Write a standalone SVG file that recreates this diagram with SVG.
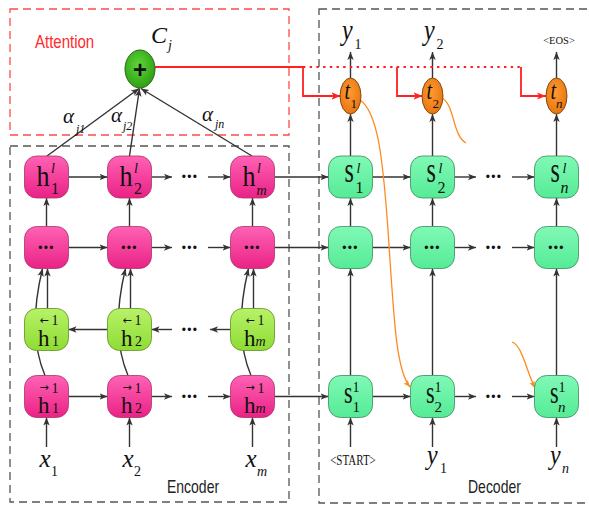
<svg xmlns="http://www.w3.org/2000/svg" width="589" height="506" viewBox="0 0 589 506">
  <style>
    .serif { font-family: "Liberation Serif", "Times New Roman", serif; fill: #111; }
    .it { font-style: italic; }
    .sans { font-family: "Liberation Sans", Arial, sans-serif; }
    .dots { font-family: "Liberation Sans", Arial, sans-serif; font-size: 12px; letter-spacing: 1.3px; text-anchor: middle; fill: #111; }
    .arr { font-family: "DejaVu Sans", sans-serif; font-size: 11px; text-anchor: middle; fill: #111; }
    .link { fill: none; stroke: #333; stroke-width: 1.4; marker-end: url(#ah); }
    .red { fill: none; stroke: #ff2020; stroke-width: 1.8; }
    .redarrow { marker-end: url(#ahRed); }
    .orange { fill: none; stroke: #ff8a1c; stroke-width: 1.3; }
    .pink { fill: url(#gPink); stroke: #a83366; stroke-width: 0.8; }
    .mint { fill: url(#gMint); stroke: #3b8a5c; stroke-width: 0.8; }
    .lime { fill: url(#gLime); stroke: #5f8f25; stroke-width: 0.8; }
    .box { fill: none; stroke: #555; stroke-width: 1.3; stroke-dasharray: 8 5; }
    .abox { fill: none; stroke: #ff4a4a; stroke-width: 1.3; stroke-dasharray: 8 5; }
  </style>
  <defs>
    <linearGradient id="gPink" x1="0" y1="0" x2="0" y2="1">
      <stop offset="0" stop-color="#ff62b4"/>
      <stop offset="1" stop-color="#ea2286"/>
    </linearGradient>
    <linearGradient id="gMint" x1="0" y1="0" x2="0" y2="1">
      <stop offset="0" stop-color="#80f9b6"/>
      <stop offset="1" stop-color="#55eb96"/>
    </linearGradient>
    <linearGradient id="gLime" x1="0" y1="0" x2="0" y2="1">
      <stop offset="0" stop-color="#b8f268"/>
      <stop offset="1" stop-color="#8edc34"/>
    </linearGradient>
    <radialGradient id="gGreen" cx="0.45" cy="0.4" r="0.6">
      <stop offset="0" stop-color="#5fd83a"/>
      <stop offset="1" stop-color="#2f9f16"/>
    </radialGradient>
    <radialGradient id="gOrange" cx="0.45" cy="0.4" r="0.6">
      <stop offset="0" stop-color="#ff9a33"/>
      <stop offset="1" stop-color="#e8760f"/>
    </radialGradient>
    <marker id="ah" viewBox="0 0 10 10" refX="10" refY="5" markerWidth="8" markerHeight="8" markerUnits="userSpaceOnUse" orient="auto">
      <path d="M0,1 L10,5 L0,9 L2.5,5 Z" fill="#333"/>
    </marker>
    <marker id="ahRed" viewBox="0 0 10 10" refX="10" refY="5" markerWidth="9" markerHeight="9" markerUnits="userSpaceOnUse" orient="auto">
      <path d="M0,1 L10,5 L0,9 L2.5,5 Z" fill="#ff2020"/>
    </marker>
    <marker id="ahOrange" viewBox="0 0 10 10" refX="10" refY="5" markerWidth="7" markerHeight="7" markerUnits="userSpaceOnUse" orient="auto">
      <path d="M0,1 L10,5 L0,9 L2.5,5 Z" fill="#ff8a1c"/>
    </marker>
  </defs>

  <rect width="589" height="506" fill="#ffffff"/>

  <!-- region frames -->
  <g id="frames">
    <rect class="abox" x="10" y="9" width="279" height="126"/>
    <rect class="box" x="10" y="146" width="279" height="356"/>
    <rect class="box" x="319" y="9" width="276" height="494"/>
    <text class="sans" font-size="15" fill="#ff2a2a" transform="translate(35,48) scale(1,1.2)">Attention</text>
    <text class="sans" font-size="14" fill="#222" transform="translate(167,493) scale(1,1.25)">Encoder</text>
    <text class="sans" font-size="14" fill="#222" transform="translate(468,493) scale(1,1.25)">Decoder</text>
  </g>

  <!-- connectors -->
  <g id="connectors">
    <!-- encoder horizontal: top layer -->
    <path class="link" d="M68.5,177 H107.5"/>
    <path class="link" d="M151.5,177 H172"/>
    <path class="link" d="M208,177 H230.5"/>
    <path class="link" d="M274.5,177 H328.5"/>
    <!-- encoder horizontal: middle layer -->
    <path class="link" d="M68.5,247.5 H107.5"/>
    <path class="link" d="M151.5,247.5 H172"/>
    <path class="link" d="M208,247.5 H230.5"/>
    <path class="link" d="M274.5,247.5 H328.5"/>
    <!-- encoder backward layer -->
    <path class="link" d="M107.5,329.5 H68.5"/>
    <path class="link" d="M172,329.5 H151.5"/>
    <path class="link" d="M230.5,329.5 H210"/>
    <!-- encoder forward layer -->
    <path class="link" d="M68.5,396.5 H107.5"/>
    <path class="link" d="M151.5,396.5 H172"/>
    <path class="link" d="M208,396.5 H230.5"/>
    <path class="link" d="M274.5,396.5 H328.5"/>

    <!-- decoder horizontal -->
    <path class="link" d="M372.5,177 H410.5"/>
    <path class="link" d="M454.5,177 H476"/>
    <path class="link" d="M512,177 H534.5"/>
    <path class="link" d="M372.5,247.5 H410.5"/>
    <path class="link" d="M454.5,247.5 H476"/>
    <path class="link" d="M512,247.5 H534.5"/>
    <path class="link" d="M372.5,396.5 H410.5"/>
    <path class="link" d="M454.5,396.5 H476"/>
    <path class="link" d="M512,396.5 H534.5"/>

    <!-- encoder vertical, column 1 -->
    <path class="link" d="M46.5,226.5 V198"/>
    <path class="link" d="M47.5,308.5 V268.5"/>
    <path class="link" d="M45,375.5 C35,352 30,320 42.5,268.5"/>
    <path class="link" d="M46.5,447 V417.5"/>
    <!-- encoder vertical, column 2 -->
    <path class="link" d="M129.5,226.5 V198"/>
    <path class="link" d="M130.5,308.5 V268.5"/>
    <path class="link" d="M128,375.5 C118,352 113,320 125.5,268.5"/>
    <path class="link" d="M129.5,447 V417.5"/>
    <!-- encoder vertical, column m -->
    <path class="link" d="M252.5,226.5 V198"/>
    <path class="link" d="M253.5,308.5 V268.5"/>
    <path class="link" d="M251,375.5 C241,352 236,320 248.5,268.5"/>
    <path class="link" d="M252.5,447 V417.5"/>

    <!-- attention weights into the context sum -->
    <path class="link" d="M47,156 L139,88.5"/>
    <path class="link" d="M129.5,156 L139.5,88.5"/>
    <path class="link" d="M252,156 L141,88.5"/>

    <!-- decoder vertical -->
    <path class="link" d="M350.5,375.5 V268.5"/>
    <path class="link" d="M350.5,226.5 V198"/>
    <path class="link" d="M350.5,156 V114"/>
    <path class="link" d="M350.5,78 V52"/>
    <path class="link" d="M350.5,447 V417.5"/>
    <path class="link" d="M432.5,375.5 V268.5"/>
    <path class="link" d="M432.5,226.5 V198"/>
    <path class="link" d="M432.5,156 V114"/>
    <path class="link" d="M432.5,78 V52"/>
    <path class="link" d="M432.5,447 V417.5"/>
    <path class="link" d="M556.5,375.5 V268.5"/>
    <path class="link" d="M556.5,226.5 V198"/>
    <path class="link" d="M556.5,156 V114"/>
    <path class="link" d="M556.5,78 V52"/>
    <path class="link" d="M556.5,447 V417.5"/>

    <!-- context vector routed to each step -->
    <path class="red redarrow" d="M155,67 H303 V96 H340.5"/>
    <path class="red" d="M303,67 H521" stroke-dasharray="2.4 4.3"/>
    <path class="red redarrow" d="M397,67 V96 H422.5"/>
    <path class="red redarrow" d="M521,67 V96 H546"/>

    <!-- output feedback -->
    <path class="orange" marker-end="url(#ahOrange)" d="M360,100 C378,112 383,160 388,230 C394,320 396,370 410,387"/>
    <path class="orange" d="M442,98 C455,105 452,135 466,143"/>
    <path class="orange" marker-end="url(#ahOrange)" d="M512,342 C522,345 526,370 535,388"/>
  </g>

  <!-- attention sum -->
  <g id="context-sum">
    <ellipse cx="140" cy="69" rx="15" ry="19" fill="url(#gGreen)" stroke="#2a6a12" stroke-width="1"/>
    <text class="sans" font-size="24" font-weight="bold" text-anchor="middle" x="140" y="77.5" fill="#111">+</text>
    <text class="serif it" font-size="24" x="151" y="43">C</text>
    <text class="serif it" font-size="14" x="168" y="50">j</text>
  </g>

  <!-- attention weight labels -->
  <g id="weights">
    <text class="serif it" font-size="21" x="63" y="123">α</text>
    <text class="serif it" font-size="12" x="76" y="133">j1</text>
    <text class="serif it" font-size="21" x="111" y="122">α</text>
    <text class="serif it" font-size="12" x="123" y="130">j2</text>
    <text class="serif it" font-size="21" x="202" y="121">α</text>
    <text class="serif it" font-size="12" x="215" y="128">jn</text>
  </g>

  <!-- encoder: top layer -->
  <g id="enc-top-1" transform="translate(46.5,177)">
    <rect class="pink" x="-22" y="-21" width="44" height="42" rx="12"/>
    <text class="serif" font-size="26" transform="translate(-10,9) scale(1,1.15)">h</text>
    <text class="serif it" font-size="14" x="4.5" y="-4">l</text>
    <text class="serif" font-size="16" x="4.5" y="17">1</text>
  </g>
  <g id="enc-top-2" transform="translate(129.5,177)">
    <rect class="pink" x="-22" y="-21" width="44" height="42" rx="12"/>
    <text class="serif" font-size="26" transform="translate(-10,9) scale(1,1.15)">h</text>
    <text class="serif it" font-size="14" x="4.5" y="-4">l</text>
    <text class="serif" font-size="16" x="4.5" y="17">2</text>
  </g>
  <g id="enc-top-dots" transform="translate(190,177)">
    <text class="dots" y="4.3">•••</text>
  </g>
  <g id="enc-top-m" transform="translate(252.5,177)">
    <rect class="pink" x="-22" y="-21" width="44" height="42" rx="12"/>
    <text class="serif" font-size="26" transform="translate(-10,9) scale(1,1.15)">h</text>
    <text class="serif it" font-size="14" x="4.5" y="-4">l</text>
    <text class="serif it" font-size="14" x="4" y="18">m</text>
  </g>

  <!-- encoder: middle layers -->
  <g id="enc-mid-1" transform="translate(46.5,247.5)">
    <rect class="pink" x="-22" y="-21" width="44" height="42" rx="12"/>
    <text class="dots" y="4.3">•••</text>
  </g>
  <g id="enc-mid-2" transform="translate(129.5,247.5)">
    <rect class="pink" x="-22" y="-21" width="44" height="42" rx="12"/>
    <text class="dots" y="4.3">•••</text>
  </g>
  <g id="enc-mid-dots" transform="translate(190,247.5)">
    <text class="dots" y="4.3">•••</text>
  </g>
  <g id="enc-mid-m" transform="translate(252.5,247.5)">
    <rect class="pink" x="-22" y="-21" width="44" height="42" rx="12"/>
    <text class="dots" y="4.3">•••</text>
  </g>

  <!-- encoder: backward first layer -->
  <g id="enc-bwd-1" transform="translate(46.5,329.5)">
    <rect class="lime" x="-22" y="-21" width="44" height="42" rx="12"/>
    <text class="arr" x="-2.5" y="-6">←</text>
    <text class="serif" font-size="23" x="-8.5" y="16.5">h</text>
    <text class="serif" font-size="14" x="5" y="-5">1</text>
    <text class="serif" font-size="14" x="5.5" y="16.5">1</text>
  </g>
  <g id="enc-bwd-2" transform="translate(129.5,329.5)">
    <rect class="lime" x="-22" y="-21" width="44" height="42" rx="12"/>
    <text class="arr" x="-2.5" y="-6">←</text>
    <text class="serif" font-size="23" x="-8.5" y="16.5">h</text>
    <text class="serif" font-size="14" x="5" y="-5">1</text>
    <text class="serif" font-size="14" x="5.5" y="16.5">2</text>
  </g>
  <g id="enc-bwd-dots" transform="translate(190,329.5)">
    <text class="dots" y="4.3">•••</text>
  </g>
  <g id="enc-bwd-m" transform="translate(252.5,329.5)">
    <rect class="lime" x="-22" y="-21" width="44" height="42" rx="12"/>
    <text class="arr" x="-2.5" y="-6">←</text>
    <text class="serif" font-size="23" x="-8.5" y="16.5">h</text>
    <text class="serif" font-size="14" x="5" y="-5">1</text>
    <text class="serif it" font-size="14" x="3" y="16.5">m</text>
  </g>

  <!-- encoder: forward first layer -->
  <g id="enc-fwd-1" transform="translate(46.5,396.5)">
    <rect class="pink" x="-22" y="-21" width="44" height="42" rx="12"/>
    <text class="arr" x="-2.5" y="-6">→</text>
    <text class="serif" font-size="23" x="-8.5" y="16.5">h</text>
    <text class="serif" font-size="14" x="5" y="-4">1</text>
    <text class="serif" font-size="14" x="5.5" y="16.5">1</text>
  </g>
  <g id="enc-fwd-2" transform="translate(129.5,396.5)">
    <rect class="pink" x="-22" y="-21" width="44" height="42" rx="12"/>
    <text class="arr" x="-2.5" y="-6">→</text>
    <text class="serif" font-size="23" x="-8.5" y="16.5">h</text>
    <text class="serif" font-size="14" x="5" y="-4">1</text>
    <text class="serif" font-size="14" x="5.5" y="16.5">2</text>
  </g>
  <g id="enc-fwd-dots" transform="translate(190,396.5)">
    <text class="dots" y="4.3">•••</text>
  </g>
  <g id="enc-fwd-m" transform="translate(252.5,396.5)">
    <rect class="pink" x="-22" y="-21" width="44" height="42" rx="12"/>
    <text class="arr" x="-2.5" y="-6">→</text>
    <text class="serif" font-size="23" x="-8.5" y="16.5">h</text>
    <text class="serif" font-size="14" x="5" y="-4">1</text>
    <text class="serif it" font-size="14" x="3" y="16.5">m</text>
  </g>

  <!-- encoder inputs -->
  <g id="enc-inputs">
    <text class="serif it" font-size="25" x="39.5" y="467">x</text>
    <text class="serif" font-size="14" x="51" y="476">1</text>
    <text class="serif it" font-size="25" x="122.5" y="467">x</text>
    <text class="serif" font-size="14" x="134" y="476">2</text>
    <text class="serif it" font-size="25" x="245.5" y="467">x</text>
    <text class="serif it" font-size="14" x="257" y="476">m</text>
  </g>

  <!-- decoder: top layer -->
  <g id="dec-top-1" transform="translate(350.5,177)">
    <rect class="mint" x="-22" y="-21" width="44" height="42" rx="12"/>
    <text class="serif" font-size="24" transform="translate(-6,5) scale(1,1.45)">s</text>
    <text class="serif it" font-size="14" x="6" y="-4">l</text>
    <text class="serif" font-size="16" x="5" y="16">1</text>
  </g>
  <g id="dec-top-2" transform="translate(432.5,177)">
    <rect class="mint" x="-22" y="-21" width="44" height="42" rx="12"/>
    <text class="serif" font-size="24" transform="translate(-6,5) scale(1,1.45)">s</text>
    <text class="serif it" font-size="14" x="6" y="-4">l</text>
    <text class="serif" font-size="16" x="5" y="16">2</text>
  </g>
  <g id="dec-top-dots" transform="translate(494,177)">
    <text class="dots" y="4.3">•••</text>
  </g>
  <g id="dec-top-n" transform="translate(556.5,177)">
    <rect class="mint" x="-22" y="-21" width="44" height="42" rx="12"/>
    <text class="serif" font-size="24" transform="translate(-6,5) scale(1,1.45)">s</text>
    <text class="serif it" font-size="14" x="6" y="-4">l</text>
    <text class="serif it" font-size="16" x="4" y="16">n</text>
  </g>

  <!-- decoder: middle layers -->
  <g id="dec-mid-1" transform="translate(350.5,247.5)">
    <rect class="mint" x="-22" y="-21" width="44" height="42" rx="12"/>
    <text class="dots" y="4.3">•••</text>
  </g>
  <g id="dec-mid-2" transform="translate(432.5,247.5)">
    <rect class="mint" x="-22" y="-21" width="44" height="42" rx="12"/>
    <text class="dots" y="4.3">•••</text>
  </g>
  <g id="dec-mid-dots" transform="translate(494,247.5)">
    <text class="dots" y="4.3">•••</text>
  </g>
  <g id="dec-mid-n" transform="translate(556.5,247.5)">
    <rect class="mint" x="-22" y="-21" width="44" height="42" rx="12"/>
    <text class="dots" y="4.3">•••</text>
  </g>

  <!-- decoder: first layer -->
  <g id="dec-first-1" transform="translate(350.5,396.5)">
    <rect class="mint" x="-22" y="-21" width="44" height="42" rx="12"/>
    <text class="serif" font-size="22" transform="translate(-6.5,6.5) scale(1,1.45)">s</text>
    <text class="serif" font-size="14" x="2" y="-4.5">1</text>
    <text class="serif" font-size="15" x="2" y="15.5">1</text>
  </g>
  <g id="dec-first-2" transform="translate(432.5,396.5)">
    <rect class="mint" x="-22" y="-21" width="44" height="42" rx="12"/>
    <text class="serif" font-size="22" transform="translate(-6.5,6.5) scale(1,1.45)">s</text>
    <text class="serif" font-size="14" x="2" y="-4.5">1</text>
    <text class="serif" font-size="15" x="2" y="15.5">2</text>
  </g>
  <g id="dec-first-dots" transform="translate(494,396.5)">
    <text class="dots" y="4.3">•••</text>
  </g>
  <g id="dec-first-n" transform="translate(556.5,396.5)">
    <rect class="mint" x="-22" y="-21" width="44" height="42" rx="12"/>
    <text class="serif" font-size="22" transform="translate(-6.5,6.5) scale(1,1.45)">s</text>
    <text class="serif" font-size="14" x="2" y="-4.5">1</text>
    <text class="serif it" font-size="15" x="1.5" y="15.5">n</text>
  </g>

  <!-- decoder outputs t -->
  <g id="dec-t-1" transform="translate(350.5,96)">
    <ellipse rx="10.5" ry="18" fill="url(#gOrange)" stroke="#7a4010" stroke-width="0.9"/>
    <text class="serif it" font-size="20" transform="translate(-6,3) scale(1,1.3)">t</text>
    <text class="serif" font-size="13" x="0" y="12">1</text>
  </g>
  <g id="dec-t-2" transform="translate(432.5,96)">
    <ellipse rx="10.5" ry="18" fill="url(#gOrange)" stroke="#7a4010" stroke-width="0.9"/>
    <text class="serif it" font-size="20" transform="translate(-6,3) scale(1,1.3)">t</text>
    <text class="serif" font-size="13" x="0" y="12">2</text>
  </g>
  <g id="dec-t-n" transform="translate(556.5,96)">
    <ellipse rx="10.5" ry="18" fill="url(#gOrange)" stroke="#7a4010" stroke-width="0.9"/>
    <text class="serif it" font-size="20" transform="translate(-6,3) scale(1,1.3)">t</text>
    <text class="serif it" font-size="13" x="-0.5" y="12">n</text>
  </g>

  <!-- decoder output labels -->
  <g id="dec-outputs">
    <text class="serif it" font-size="24" transform="translate(342,40) scale(1,1.2)">y</text>
    <text class="serif" font-size="14" x="354.5" y="49">1</text>
    <text class="serif it" font-size="24" transform="translate(424,40) scale(1,1.2)">y</text>
    <text class="serif" font-size="14" x="436.5" y="49">2</text>
    <text class="serif" font-size="10.5" fill="#444" text-anchor="middle" x="559" y="44">&lt;EOS&gt;</text>
  </g>

  <!-- decoder inputs -->
  <g id="dec-inputs">
    <text class="serif" font-size="11" fill="#444" text-anchor="middle" transform="translate(353,465) scale(1,1.35)">&lt;START&gt;</text>
    <text class="serif it" font-size="24" transform="translate(427,464) scale(1,1.1)">y</text>
    <text class="serif" font-size="14" x="440" y="473">1</text>
    <text class="serif it" font-size="24" transform="translate(550,464) scale(1,1.1)">y</text>
    <text class="serif it" font-size="14" x="562" y="473">n</text>
  </g>
</svg>
